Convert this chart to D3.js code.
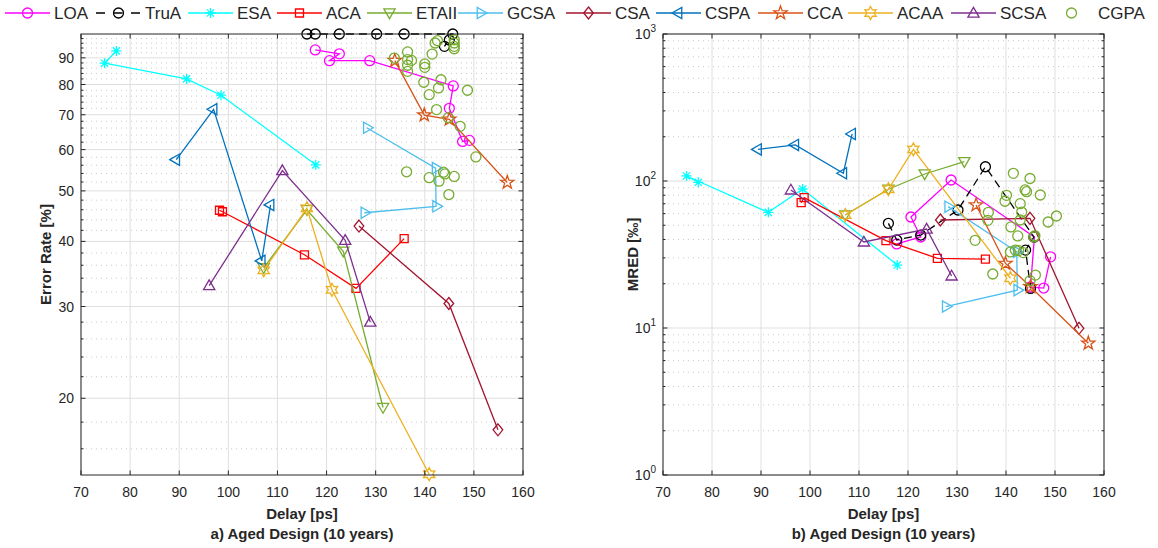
<!DOCTYPE html>
<html>
<head>
<meta charset="utf-8">
<script src="https://cdn.jsdelivr.net/npm/d3@7"></script>
<style>
  body { margin: 0; background: #fff; }
  text { font-family: "Liberation Sans", Arial, sans-serif; fill: #262626; }
</style>
</head>
<body>
<svg id="chart" width="1158" height="548"></svg>
<script>
// each point: [delay (ps), error rate (%), MRED (‰)]
const loa   = [[117.7, 93.2, 37.3], [122.6, 91.6, 41.6], [120.6, 88.9, 56.9], [128.8, 88.9, 101.6],
               [145.8, 79.5, 41.6], [145.0, 72.0, 19.0], [147.7, 62.2, 18.7], [149.1, 62.5, 30.5]];
const trua  = [[116.0, 100, 51.5], [117.7, 100, 39.7], [122.6, 100, 42.9], [130.2, 100, 63.5],
               [135.8, 100, 125], [145.7, 100, 41.6], [144.0, 94.7, 33.9], [145.0, 97.4, 18.6]];
const esa   = [[77.2, 92.8, 98.0], [74.8, 87.9, 108.2], [91.5, 82.0, 61.2], [98.5, 76.3, 88.2], [117.8, 56.1, 26.8]];
const aca   = [[98.2, 45.9, 71.2], [98.8, 45.6, 77.0], [115.5, 37.7, 39.3], [126.0, 32.5, 29.8], [135.8, 40.5, 29.4]];
const etaii = [[107.2, 35.6, 58.7], [116.0, 46.0, 87.9], [123.4, 38.3, 111.6], [131.5, 19.2, 135.3]];
const gcsa  = [[128.2, 66.1, 66.9], [142.2, 55.3, 33.0], [142.3, 46.7, 18.1], [127.7, 45.4, 14.0]];
const csa   = [[126.6, 42.8, 54.3], [144.9, 30.4, 55.7], [154.9, 17.4, 9.95]];
const cspa  = [[89.4, 57.4, 164], [97.0, 71.7, 176], [106.8, 36.7, 113], [108.6, 47.0, 209]];
const cca   = [[133.9, 88.9, 68.7], [139.9, 69.9, 27.5], [145.0, 68.6, 19.1], [156.8, 51.9, 7.87]];
const acaa  = [[107.2, 35.2, 58.7], [116.0, 46.3, 87.9], [121.1, 32.3, 164], [140.9, 14.3, 21.8]];
const scsa  = [[96.1, 32.9, 86.9], [111.0, 54.7, 38.5], [123.8, 40.2, 47.1], [128.9, 28.0, 22.6]];

// CGPA design points (scatter only) : [delay, error rate] and [delay, MRED]
const cgpaErr = [[142.1, 96.1], [142.6, 97.1], [146.0, 97.5], [146.0, 96.1], [146.0, 94.7], [146.0, 93.7],
                 [136.5, 92.4], [136.5, 89.3], [137.3, 89.0], [136.5, 87.1], [136.5, 84.8], [133.8, 89.9],
                 [141.5, 91.5], [140.0, 87.6], [140.0, 86.3], [143.3, 81.7], [142.8, 78.8], [140.9, 76.5],
                 [139.8, 80.8], [148.7, 78.0], [142.4, 71.6], [144.8, 69.1], [147.2, 66.5], [150.4, 58.1],
                 [136.3, 54.4], [140.9, 53.0], [142.9, 52.2], [143.8, 54.3], [144.1, 53.9], [146.0, 53.3],
                 [144.9, 49.2]];
const cgpaMred = [[141.5, 112.8], [144.9, 104.0], [143.9, 86.9], [144.2, 84.6], [147.0, 80.3], [140.1, 79.9],
                  [139.8, 72.8], [142.9, 70.1], [143.2, 61.5], [136.4, 61.2], [136.3, 54.0], [142.9, 54.3],
                  [141.0, 48.7], [142.4, 42.3], [145.7, 41.6], [145.9, 42.5], [148.6, 52.6], [150.3, 57.8],
                  [133.7, 39.5], [140.9, 32.9], [141.9, 33.9], [142.6, 33.6], [143.5, 32.6], [137.3, 23.3],
                  [146.0, 22.9], [144.9, 21.0]];

const delayTicks = [70, 80, 90, 100, 110, 120, 130, 140, 150, 160];
const errTicks = [20, 30, 40, 50, 60, 70, 80, 90];
const mredTicks = [1, 10, 100, 1000];

const series = [
  { name: 'LOA',   color: '#ff00ff', marker: 'o', data: loa },
  { name: 'TruA',  color: '#000000', marker: 'o', data: trua, dash: '8,5' },
  { name: 'ESA',   color: '#00ffff', marker: '*', data: esa },
  { name: 'ACA',   color: '#ff0000', marker: 's', data: aca },
  { name: 'ETAII', color: '#77ac30', marker: 'v', data: etaii },
  { name: 'GCSA',  color: '#4dbeee', marker: '>', data: gcsa },
  { name: 'CSA',   color: '#a2142f', marker: 'd', data: csa },
  { name: 'CSPA',  color: '#0072bd', marker: '<', data: cspa },
  { name: 'CCA',   color: '#d95319', marker: 'p', data: cca },
  { name: 'ACAA',  color: '#edb120', marker: 'h', data: acaa },
  { name: 'SCSA',  color: '#7e2f8e', marker: '^', data: scsa }
];
const cgpaColor = '#77ac30';

const svg = d3.select('#chart');

function poly(pts) {
  return 'M' + pts.map(p => p[0].toFixed(2) + ',' + p[1].toFixed(2)).join('L') + 'Z';
}
function star(n, ro, ri) {
  const pts = [];
  for (let i = 0; i < 2 * n; i++) {
    const a = -Math.PI / 2 + i * Math.PI / n;
    const r = i % 2 ? ri : ro;
    pts.push([r * Math.cos(a), r * Math.sin(a)]);
  }
  return poly(pts);
}
function tri(rot) {
  const pts = [0, 1, 2].map(i => {
    const a = (rot - 90 + i * 120) * Math.PI / 180;
    return [6.5 * Math.cos(a), 6.5 * Math.sin(a) + (rot === 0 ? 0.8 : rot === 180 ? -0.8 : 0)];
  });
  return poly(pts);
}
function markerPath(type) {
  switch (type) {
    case 'o': return 'M5,0A5,5 0 1,1 -5,0A5,5 0 1,1 5,0Z';
    case 's': return 'M-4,-4H4V4H-4Z';
    case 'd': return 'M0,-6L4.8,0L0,6L-4.8,0Z';
    case '^': return tri(0);
    case 'v': return tri(180);
    case '<': return tri(270);
    case '>': return tri(90);
    case 'p': return star(5, 7, 2.8);
    case 'h': return star(6, 6.5, 3.6);
    case '*': return 'M-5,0H5M0,-5V5M-3.6,-3.6L3.6,3.6M-3.6,3.6L3.6,-3.6';
  }
}

function drawPanel(opt) {
  const g = svg.append('g');
  const x = d3.scaleLinear().domain([70, 160]).range([opt.x0, opt.x1]);
  const y = opt.y;
  const ymin = opt.y0, ymax = opt.y1;

  // grid
  const grid = g.append('g');
  grid.selectAll('.ymin').data(opt.minor).join('line')
    .attr('x1', opt.x0).attr('x2', opt.x1)
    .attr('y1', d => y(d)).attr('y2', d => y(d))
    .attr('stroke', '#bdbdbd').attr('stroke-width', 0.8).attr('stroke-dasharray', '1,4');
  grid.selectAll('.xmaj').data(delayTicks).join('line')
    .attr('x1', d => x(d)).attr('x2', d => x(d))
    .attr('y1', ymin).attr('y2', ymax)
    .attr('stroke', '#dfdfdf').attr('stroke-width', 1);
  grid.selectAll('.ymaj').data(opt.major).join('line')
    .attr('x1', opt.x0).attr('x2', opt.x1)
    .attr('y1', d => y(d)).attr('y2', d => y(d))
    .attr('stroke', '#dfdfdf').attr('stroke-width', 1);

  // series lines and markers
  const k = opt.key;
  series.forEach(s => {
    const line = d3.line().x(d => x(d[0])).y(d => y(d[k]));
    g.append('path').datum(s.data)
      .attr('d', line).attr('fill', 'none')
      .attr('stroke', s.color).attr('stroke-width', 1.3)
      .attr('stroke-dasharray', s.dash || null);
    g.selectAll(null).data(s.data).join('path')
      .attr('transform', d => `translate(${x(d[0])},${y(d[k])})`)
      .attr('d', markerPath(s.marker))
      .attr('fill', 'none').attr('stroke', s.color).attr('stroke-width', 1.3);
  });
  g.selectAll(null).data(opt.cgpa).join('path')
    .attr('transform', d => `translate(${x(d[0])},${y(d[1])})`)
    .attr('d', markerPath('o'))
    .attr('fill', 'none').attr('stroke', cgpaColor).attr('stroke-width', 1.3);

  // axes box and ticks
  const ax = g.append('g').attr('stroke', '#262626');
  ax.append('rect').attr('x', opt.x0).attr('y', ymin)
    .attr('width', opt.x1 - opt.x0).attr('height', ymax - ymin)
    .attr('fill', 'none').attr('stroke-width', 1);
  delayTicks.forEach(t => {
    ax.append('line').attr('x1', x(t)).attr('x2', x(t)).attr('y1', ymax).attr('y2', ymax - 4.5);
    ax.append('line').attr('x1', x(t)).attr('x2', x(t)).attr('y1', ymin).attr('y2', ymin + 4.5);
  });
  opt.major.forEach(t => {
    ax.append('line').attr('x1', opt.x0).attr('x2', opt.x0 + 4.5).attr('y1', y(t)).attr('y2', y(t));
    ax.append('line').attr('x1', opt.x1).attr('x2', opt.x1 - 4.5).attr('y1', y(t)).attr('y2', y(t));
  });
  opt.minor.forEach(t => {
    ax.append('line').attr('x1', opt.x0).attr('x2', opt.x0 + 2.5).attr('y1', y(t)).attr('y2', y(t));
    ax.append('line').attr('x1', opt.x1).attr('x2', opt.x1 - 2.5).attr('y1', y(t)).attr('y2', y(t));
  });

  // tick labels
  g.selectAll('.xl').data(delayTicks).join('text')
    .attr('x', d => x(d)).attr('y', ymax + 22)
    .attr('text-anchor', 'middle').attr('font-size', 14).text(d => d);
  const yl = g.selectAll('.yl').data(opt.major).join('text')
    .attr('x', opt.x0 - 7).attr('y', d => y(d) + 5)
    .attr('text-anchor', 'end').attr('font-size', 14);
  if (opt.power) {
    yl.append('tspan').text('10');
    yl.append('tspan').attr('font-size', 10).attr('dy', -7).text(d => Math.round(Math.log10(d)));
  } else {
    yl.text(d => d);
  }

  // axis titles
  const cx = (opt.x0 + opt.x1) / 2;
  g.append('text').attr('x', cx).attr('y', ymax + 44)
    .attr('text-anchor', 'middle').attr('font-size', 15).attr('font-weight', 'bold').text('Delay [ps]');
  g.append('text').attr('x', cx).attr('y', ymax + 64)
    .attr('text-anchor', 'middle').attr('font-size', 15).attr('font-weight', 'bold').text(opt.title);
  g.append('text')
    .attr('transform', `translate(${opt.ylabX},${(ymin + ymax) / 2}) rotate(-90)`)
    .attr('text-anchor', 'middle').attr('font-size', 15).attr('font-weight', 'bold').text(opt.ylabel);
}

const errMinor = d3.range(16, 100, 2).filter(v => !errTicks.includes(v));
const mredMinor = [];
[1, 10, 100].forEach(b => d3.range(2, 10).forEach(m => mredMinor.push(b * m)));

drawPanel({
  x0: 81, x1: 523, y0: 34, y1: 475,
  y: d3.scaleLog().domain([14.25, 100]).range([475, 34]),
  key: 1, major: errTicks, minor: errMinor, cgpa: cgpaErr,
  title: 'a) Aged Design (10 years)', ylabel: 'Error Rate [%]', ylabX: 51
});
drawPanel({
  x0: 663, x1: 1104, y0: 34, y1: 475,
  y: d3.scaleLog().domain([1, 1000]).range([475, 34]),
  key: 2, major: mredTicks, minor: mredMinor, cgpa: cgpaMred, power: true,
  title: 'b) Aged Design (10 years)', ylabel: 'MRED [‰]', ylabX: 638
});

// legend across the top
const legendX = [5, 96, 188, 277, 367, 458, 566, 656, 758, 848, 951, 1049];
const legendItems = series.concat([{ name: 'CGPA', color: cgpaColor, marker: 'o', noLine: true }]);
const lg = svg.append('g');
legendItems.forEach((s, i) => {
  const lx = legendX[i], ly = 13;
  if (!s.noLine) {
    lg.append('line').attr('x1', lx).attr('x2', lx + 45).attr('y1', ly).attr('y2', ly)
      .attr('stroke', s.color).attr('stroke-width', 1.3)
      .attr('stroke-dasharray', s.dash ? '9,8.5' : null);
  }
  lg.append('path').attr('transform', `translate(${lx + 22.5},${ly})`)
    .attr('d', markerPath(s.marker)).attr('fill', 'none')
    .attr('stroke', s.color).attr('stroke-width', 1.3);
  lg.append('text').attr('x', lx + 49).attr('y', ly + 6)
    .attr('font-size', 17).text(s.name);
});
</script>
</body>
</html>
